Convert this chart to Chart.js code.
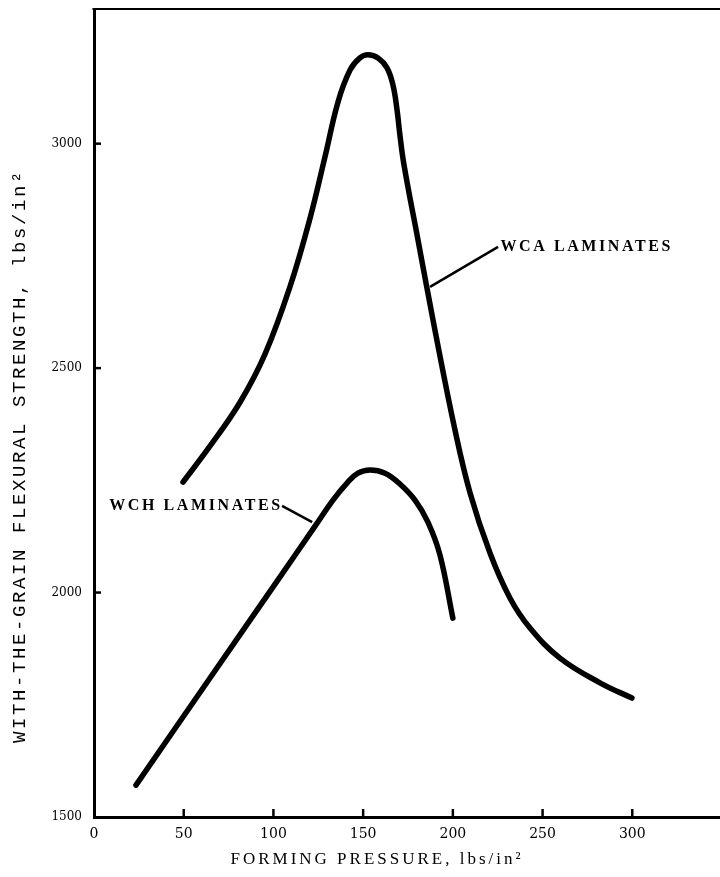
<!DOCTYPE html>
<html><head><meta charset="utf-8">
<style>html,body{margin:0;padding:0;overflow:hidden;background:#fff}#wrap{width:726px;height:877px;position:relative}</style>
<script src="https://cdn.jsdelivr.net/npm/chart.js@4.4.1/dist/chart.umd.min.js"></script>
</head><body><div id="wrap"><canvas id="c"></canvas></div>
<script>
// ---- data ----
const xTickValues = [0, 50, 100, 150, 200, 250, 300];
const yTickValues = [1500, 2000, 2500, 3000];

const wcaPressure = [49.6, 64.6, 81.4, 95.3, 109.2, 120.4, 128.7, 136, 142.7, 148.2, 152.7, 158.3, 163.3, 166.6, 168.9, 170.5, 172.8, 180.6, 190, 201.2, 209.6, 220.7, 231.8, 243, 259.7, 282, 299.8];
const wcaStrength = [2246, 2326, 2424, 2531, 2681, 2834, 2970, 3093, 3164, 3191, 3198, 3191, 3169, 3131, 3075, 3019, 2952, 2785, 2585, 2362, 2222, 2088, 1988, 1921, 1854, 1799, 1765];

const wchPressure = [23.4, 63.5, 103.7, 123.2, 133.2, 141, 147.1, 153.8, 162.2, 170.5, 178.9, 186.1, 192.8, 200];
const wchStrength = [1571, 1803, 2035, 2148, 2206, 2244, 2266, 2273, 2266, 2242, 2206, 2157, 2084, 1943];

const seriesNames = ['WCA LAMINATES', 'WCH LAMINATES'];
const xTitle = 'FORMING PRESSURE, lbs/in\u00B2';
const yTitle = 'WITH-THE-GRAIN FLEXURAL STRENGTH, lbs/in\u00B2';

// callouts in data coordinates
const callouts = [
  {text: seriesNames[0], from: [187.3, 2681], to: [225.2, 2770], at: [226.5, 2770], align: 'left'},
  {text: seriesNames[1], from: [121.6, 2157], to: [104.8, 2193], at: [103.7, 2193], align: 'right'}
];

const overlay = {
  id: 'overlay',
  afterDraw(chart) {
    const ctx = chart.ctx, a = chart.chartArea, xs = chart.scales.x, ys = chart.scales.y;
    ctx.save();
    ctx.strokeStyle = '#000'; ctx.fillStyle = '#000';
    // top frame line
    ctx.lineWidth = 2;
    ctx.beginPath(); ctx.moveTo(a.left - 1.5, a.top); ctx.lineTo(a.right + 5, a.top); ctx.stroke();
    // inward tick marks
    ctx.lineWidth = 2.5;
    xTickValues.forEach(v => { if (v === 0) return; const px = xs.getPixelForValue(v);
      ctx.beginPath(); ctx.moveTo(px, a.bottom); ctx.lineTo(px, a.bottom - 8); ctx.stroke(); });
    yTickValues.forEach(v => { if (v === 1500) return; const py = ys.getPixelForValue(v);
      ctx.beginPath(); ctx.moveTo(a.left, py); ctx.lineTo(a.left + 7, py); ctx.stroke(); });
    // callouts
    ctx.font = 'bold 16px "Liberation Serif"';
    ctx.textBaseline = 'middle';
    callouts.forEach(c => {
      ctx.lineWidth = 2.5;
      ctx.beginPath();
      ctx.moveTo(xs.getPixelForValue(c.from[0]), ys.getPixelForValue(c.from[1]));
      ctx.lineTo(xs.getPixelForValue(c.to[0]), ys.getPixelForValue(c.to[1]));
      ctx.stroke();
      ctx.letterSpacing = '2.6px';
      ctx.textAlign = c.align;
      ctx.fillText(c.text, xs.getPixelForValue(c.at[0]) + (c.align === 'right' ? 2.6 : 0), ys.getPixelForValue(c.at[1]));
    });
    // x title
    ctx.font = '17px "Liberation Serif"';
    ctx.letterSpacing = '3px';
    ctx.textAlign = 'center';
    ctx.fillText(xTitle, 377, 860);
    // y title
    ctx.translate(20, 456);
    ctx.rotate(-Math.PI / 2);
    ctx.font = '19px "Liberation Mono"';
    ctx.letterSpacing = '2.6px';
    ctx.fillText(yTitle, 0, 0);
    ctx.restore();
  }
};

const mk = (xsArr, ysArr) => xsArr.map((p, i) => ({x: p, y: ysArr[i]}));
const lineStyle = {borderColor: '#000', borderWidth: 5.5, pointRadius: 0, fill: false,
  tension: 0.4, borderCapStyle: 'round', borderJoinStyle: 'round'};

new Chart(document.getElementById('c'), {
  type: 'line',
  data: {datasets: [
    Object.assign({label: seriesNames[0], data: mk(wcaPressure, wcaStrength)}, lineStyle),
    Object.assign({label: seriesNames[1], data: mk(wchPressure, wchStrength)}, lineStyle)
  ]},
  options: {
    responsive: true, maintainAspectRatio: false, animation: false, devicePixelRatio: 1,
    layout: {padding: {left: 0, right: 4, top: 9, bottom: 0}},
    plugins: {legend: {display: false}, tooltip: {enabled: false}, title: {display: false}},
    scales: {
      x: {type: 'linear', min: 0, max: 350,
        afterBuildTicks: s => { s.ticks = xTickValues.map(v => ({value: v})); },
        afterFit: s => { s.height = 60; s.paddingLeft = 0; s.paddingRight = 0; },
        grid: {display: true, drawOnChartArea: false, drawTicks: false},
        border: {display: true, color: '#000', width: 3},
        ticks: {color: '#000', font: {family: 'DejaVu Serif', size: 14}, padding: 9, maxRotation: 0, autoSkip: false,
          callback: v => String(v)}},
      y: {type: 'linear', min: 1500, max: 3300,
        afterBuildTicks: s => { s.ticks = yTickValues.map(v => ({value: v})); },
        afterFit: s => { s.width = 94; s.paddingTop = 0; s.paddingBottom = 0; },
        grid: {display: true, drawOnChartArea: false, drawTicks: false},
        border: {display: true, color: '#000', width: 3},
        ticks: {color: '#000', font: {family: 'DejaVu Serif', size: 12}, padding: 12, autoSkip: false,
          callback: v => String(v)}}
    }
  },
  plugins: [overlay]
});
</script>
</body></html>
